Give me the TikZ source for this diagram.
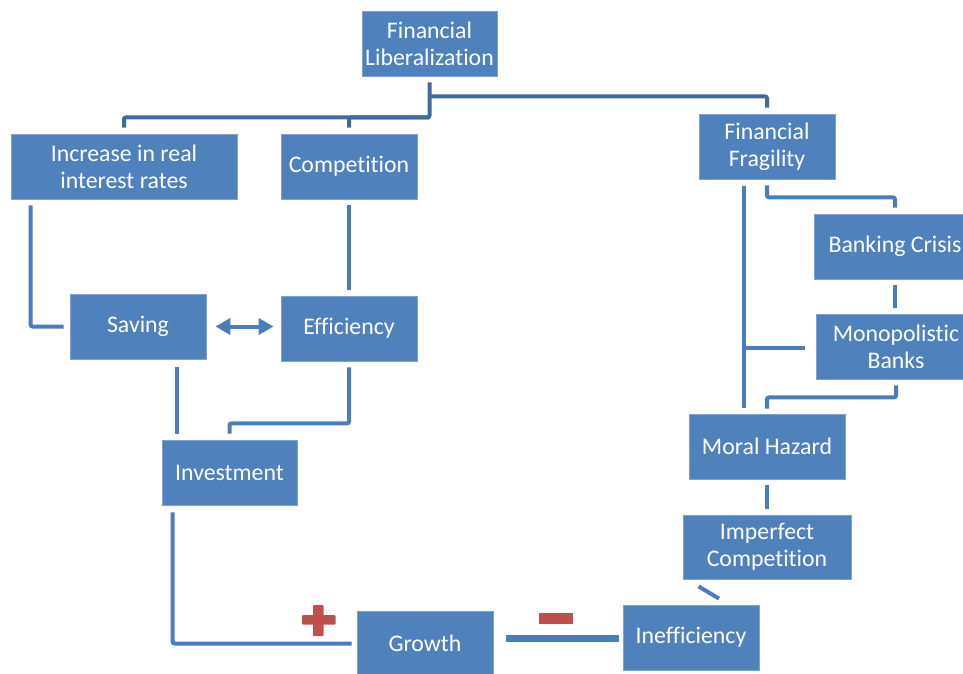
\documentclass[tikz,border=0pt]{standalone}
\usepackage{fontspec}
\setmainfont[Ligatures=NoCommon]{Carlito}
\usetikzlibrary{calc,arrows.meta}
\definecolor{boxblue}{HTML}{4F81BD}
\definecolor{boxedge}{HTML}{7FA2D2}
\definecolor{lineblue}{HTML}{4A7EBB}
\definecolor{darkline}{HTML}{3F6A9C}
\definecolor{signred}{HTML}{C0504D}
\tikzset{
  box/.style={rectangle, fill=boxblue, draw=boxedge, line width=0.8pt, text=white,
    inner sep=0pt, minimum height=65pt, align=center,
    font=\fontsize{23.8}{27}\selectfont},
  conn/.style={draw=lineblue, line width=4pt, rounded corners=2pt},
  tconn/.style={draw=darkline, line width=4pt, rounded corners=2pt},
  twoway/.style={draw=lineblue, line width=4pt,
    {Triangle[width=16pt,length=15pt]}-{Triangle[width=16pt,length=15pt]}},
}
\begin{document}
\begin{tikzpicture}[x=1pt,y=-1pt]
\useasboundingbox (0,0) rectangle (963,673);
\begin{scope}
\clip (0,0) rectangle (963,673);
% nodes
\node[box, minimum width=135pt] (fl) at (429.5,43.5) {Financial\\Liberalization};
\node[box, minimum width=226pt] (inc) at (124,166.5) {Increase in real\\interest rates};
\node[box, minimum width=136pt] (comp) at (349,166.5) {Competition};
\node[box, minimum width=136pt] (ff) at (767,146.5) {Financial\\Fragility};
\node[box, minimum width=162pt] (bc) at (895,246.5) {Banking Crisis};
\node[box, minimum width=160pt] (mb) at (896,346.5) {Monopolistic\\Banks};
\node[box, minimum width=136pt] (sav) at (138,326.5) {Saving};
\node[box, minimum width=136pt] (eff) at (349,328.5) {Efficiency};
\node[box, minimum width=135pt] (inv) at (229.5,472.5) {Investment};
\node[box, minimum width=156pt] (mh) at (767,446.5) {Moral Hazard};
\node[box, minimum width=168pt, minimum height=64pt] (ic) at (767,547) {Imperfect\\Competition};
\node[box, minimum width=136pt] (gr) at (425,643.5) {Growth};
\node[box, minimum width=136pt] (ine) at (691,637.5) {Inefficiency};

% Financial Liberalization tree
\coordinate (j1) at ($(fl.south)+(0,41)$);
\coordinate (j2) at ($(fl.south)+(0,20)$);
\draw[tconn, shorten <=6pt, shorten >=6pt] (fl.south) -- (j1) -| (inc.north);
\draw[tconn, shorten >=6pt] (j1) -| (comp.north);
\draw[tconn, shorten >=6pt] (j2) -| (ff.north);

% left side
\draw[conn] ($(inc.south west)+(20,6)$) |- ($(sav.west)+(-6,0)$);
\draw[conn, shorten <=6pt, shorten >=6pt] (comp.south) -- (eff.north);
\draw[twoway] ($(sav.east)+(9,0)$) -- ($(eff.west)+(-7,-2)$);
\draw[conn] ($(sav.south west)+(107,8)$) -- ($(inv.north west)+(15,-6)$);
\draw[conn, shorten <=6pt, shorten >=6pt] (eff.south) -- ++(0,62) -| (inv.north);
\draw[conn] ($(inv.south west)+(11,7)$) |- ($(gr.west)+(-5,0)$);

% bottom
\draw[draw=lineblue, line width=7.5pt] ($(gr.east)+(13,-5)$) -- ($(ine.west)+(-4,1)$);
\fill[signred, rounded corners=1pt] (302,615) rectangle (335.5,624.5);
\fill[signred, rounded corners=1pt] (313,605) rectangle (323.5,636);
\fill[signred] (539,613) rectangle (573,624);

% right side
\draw[conn] ($(ff.south west)+(45,7)$) -- ($(mh.north west)+(55,-6)$);
\draw[conn] ($(mb.west)+(-11,1.5)$) -- ++(-61,0);
\draw[conn, shorten <=6pt, shorten >=6pt] (ff.south) -- ++(0,18) -| (bc.north);
\draw[conn, shorten <=6pt, shorten >=6pt] (bc.south) -- (bc.south |- mb.north);
\draw[conn, shorten <=6pt, shorten >=5pt] (mb.south) -- ++(0,18) -| (mh.north);
\draw[conn, shorten <=6pt, shorten >=6pt] (mh.south) -- (ic.north);
\draw[conn] ($(ic.south west)+(16,7)$) -- ($(ine.north)+(28,-6)$);
\end{scope}
\end{tikzpicture}
\end{document}
